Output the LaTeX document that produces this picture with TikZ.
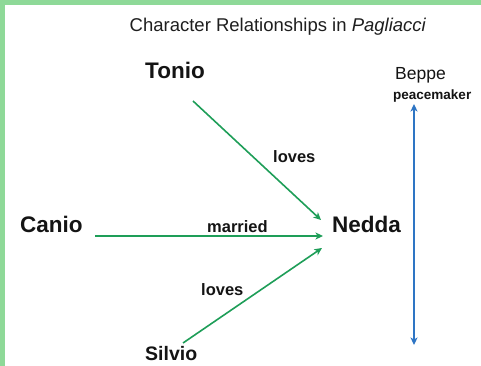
\documentclass[tikz,border=0pt]{standalone}
\usepackage{fontspec}
\setmainfont{Liberation Sans}
\usetikzlibrary{arrows.meta}
\definecolor{frame}{RGB}{142,217,152}
\definecolor{relgreen}{RGB}{30,158,88}
\definecolor{relblue}{RGB}{46,117,196}
\definecolor{ink}{RGB}{20,20,20}
\begin{document}
\begin{tikzpicture}[x=1pt,y=-1pt,
  txt/.style={inner sep=0pt, anchor=base west, text=ink},
  bigname/.style={txt, font=\fontsize{22.5}{26}\selectfont\bfseries},
  label/.style={txt, font=\fontsize{16.5}{19}\selectfont\bfseries},
  rel/.style={draw=relgreen, line width=1.6pt, -{Stealth[length=7.5pt,width=7pt,inset=2pt]}},
  relb/.style={draw=relblue, line width=1.5pt, {Stealth[length=7.5pt,width=7pt,inset=2pt]}-{Stealth[length=7.5pt,width=7pt,inset=2pt]}}]
\useasboundingbox (0,0) rectangle (481,366);
\fill[frame] (0,0) rectangle (481,366);
\fill[white] (5,5) rectangle (481,366);
% title
\node[inner sep=0pt, anchor=base, text={rgb,255:red,30;green,30;blue,30}, font=\fontsize{18.5}{22}\selectfont] (title) at (278,32) {Character Relationships in \textit{Pagliacci}};
% names
\node[bigname] (tonio) at (145,79) {Tonio};
\node[bigname] (canio) at (20,232) {Canio};
\node[bigname] (nedda) at (332,232) {Nedda};
\node[txt, font=\fontsize{19.5}{22}\selectfont\bfseries] (silvio) at (145,360) {Silvio};
\node[txt, font=\fontsize{17.5}{20}\selectfont] (beppe) at (395,80) {Beppe};
\node[txt, font=\fontsize{13.5}{16}\selectfont\bfseries] (peace) at (393,100) {peacemaker};
% labels
\node[label] (married) at (207,232) {married};
\node[label] (loves1) at (273,163) {loves};
\node[label] (loves2) at (201,295) {loves};
% connector ends
\coordinate (tonioOut) at (193,101);
\coordinate (neddaIn1) at (321,220);
\coordinate (canioOut) at (95,236);
\coordinate (neddaIn2) at (323,236);
\coordinate (silvioOut) at (183,343);
\coordinate (neddaIn3) at (322,248);
\coordinate (beppeTop) at (414,104);
\coordinate (beppeBot) at (414,345);
% connectors
\draw[rel] (tonioOut) -- (neddaIn1);
\draw[rel] (canioOut) -- (neddaIn2);
\draw[rel] (silvioOut) -- (neddaIn3);
\draw[relb] (beppeTop) -- (beppeBot);
\end{tikzpicture}
\end{document}
